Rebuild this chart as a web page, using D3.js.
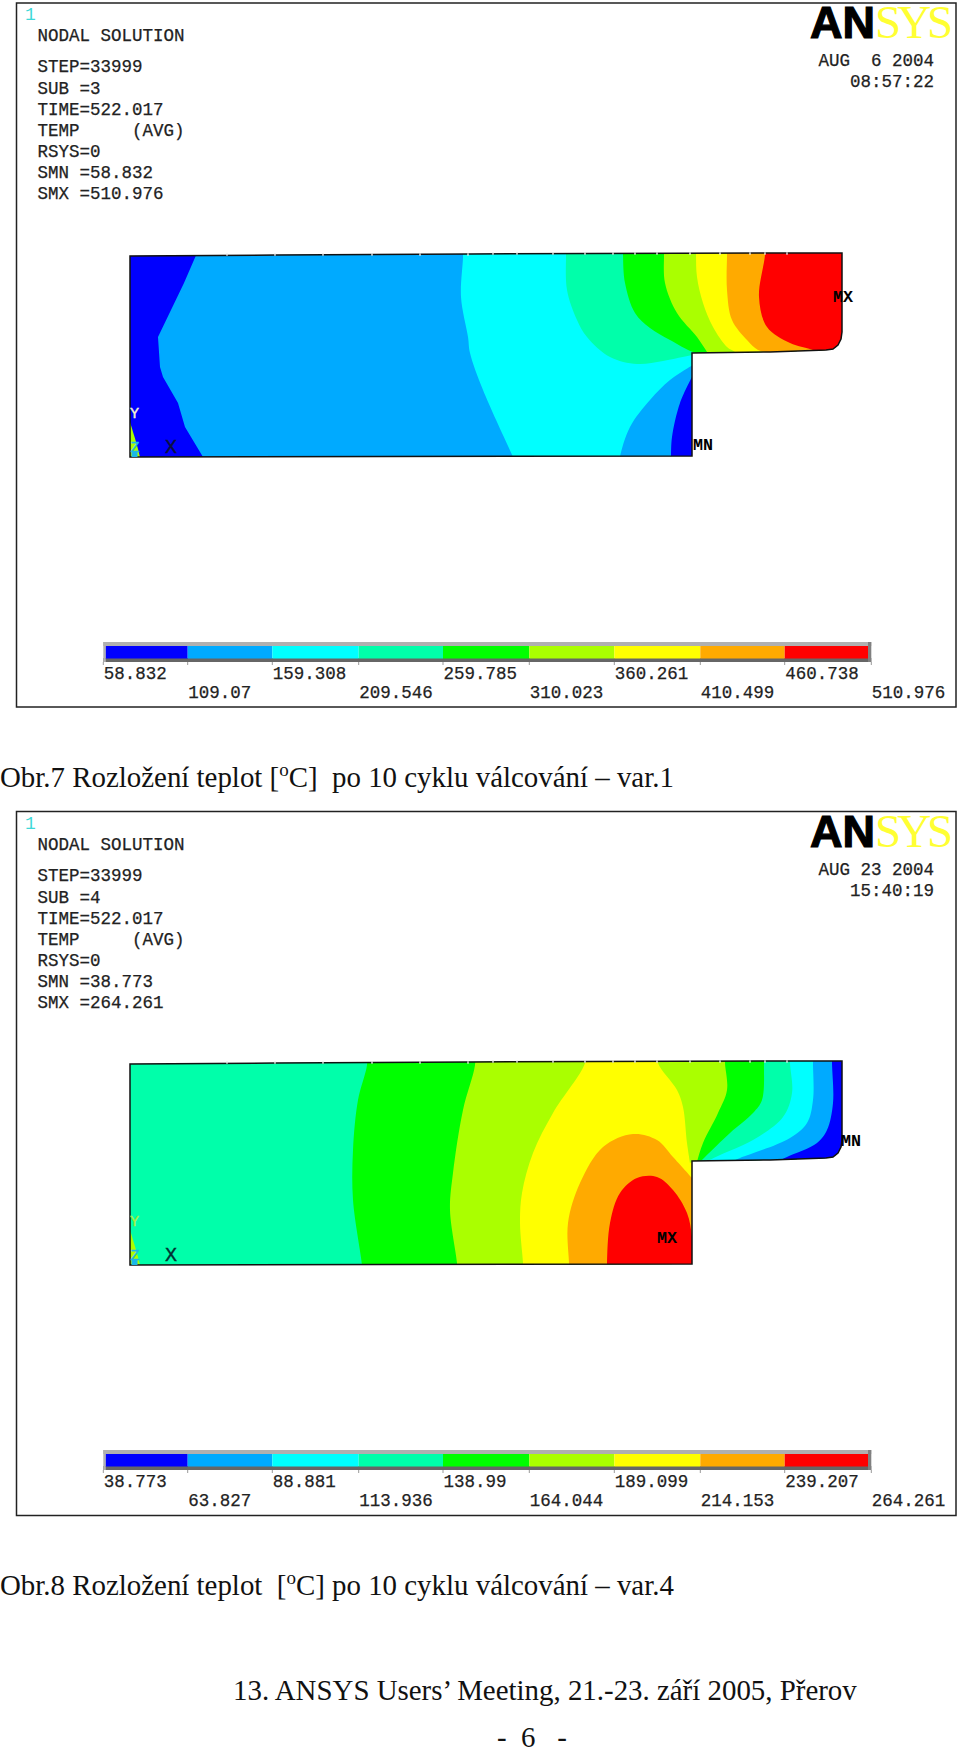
<!DOCTYPE html>
<html><head><meta charset="utf-8">
<script src="https://cdn.jsdelivr.net/npm/d3@7"></script>
<style>
html,body{margin:0;padding:0;background:#fff}
svg{display:block}
text{white-space:pre}
.mono{font-family:"Liberation Mono",monospace;font-size:17.5px;fill:#222;stroke:#222;stroke-width:.25px}
.cap{font-family:"Liberation Serif",serif;font-size:28.9px;fill:#111}
</style></head><body>
<svg id="c" width="960" height="1750"></svg>
<script>
// contour colours, lowest to highest band
const bandColors = ["#0000FF","#00AAFF","#00FFFF","#00FFAA","#00FF00","#AAFF00","#FFFF00","#FFAA00","#FF0000"];
// legend level values
const levels1 = ["58.832","109.07","159.308","209.546","259.785","310.023","360.261","410.499","460.738","510.976"];
const levels2 = ["38.773","63.827","88.881","113.936","138.99","164.044","189.099","214.153","239.207","264.261"];
// header texts
const header1 = ["NODAL SOLUTION","STEP=33999","SUB =3","TIME=522.017","TEMP     (AVG)","RSYS=0","SMN =58.832","SMX =510.976"];
const header2 = ["NODAL SOLUTION","STEP=33999","SUB =4","TIME=522.017","TEMP     (AVG)","RSYS=0","SMN =38.773","SMX =264.261"];
const stamp1 = ["AUG  6 2004","08:57:22"];
const stamp2 = ["AUG 23 2004","15:40:19"];
// model outline of the rolled section (model units)
const outline = [[0,0],[562,1],[562,104],[640,105],[696,107],[703,108],[708,112],[711,118],[712,125],[712,204],[640,204],[340,203],[146,202],[0,201]];
// mesh node marks on the top edge
const topNodes = [97,145,193,242,290,338,363,387,423,455,483,505,527,560,590,620,635,657];

// contour edges. Each band: colour index and edges (curved runs joined by straight lines)
const farX = 730, topY = 215, lowY = -5;
const bands1 = [
 {c:1, edges:[[[-5,lowY],[farX,lowY],[farX,topY],[-5,topY]]], straight:true},
 {c:0, straight:true, edges:[[[72,topY],[67,204],[54,174],[28,120],[30,90],[33,80],[48,54],[55,30],[73,0],[74,lowY]],[[-5,lowY],[-5,topY]]]},
 {c:5, edges:[[[0,35],[10,0],[10,lowY]],[[-5,lowY],[-5,35]]]},
 {c:2, edges:[[[333,topY],[333,200],[331,160],[338,120],[340,104],[353,67],[383,0],[385,lowY]],[[farX,lowY],[farX,topY]]]},
 {c:1, edges:[[[490,lowY],[490,0],[500,30],[520,57],[540,77],[563,92]],[[600,92],[600,lowY]]]},
 {c:0, edges:[[[541,lowY],[541,0],[542,20],[550,54],[563,82]],[[600,82],[600,lowY]]]},
 {c:3, edges:[[[436,topY],[436,202],[437,167],[447,137],[457,120],[480,100],[507,93],[533,96],[563,102],[575,103]],[[farX,103],[farX,topY]]]},
 {c:4, edges:[[[493,topY],[493,202],[495,174],[505,144],[520,129],[540,117],[563,105],[575,103]],[[farX,103],[farX,topY]]]},
 {c:5, edges:[[[534,topY],[534,202],[535,174],[547,144],[567,120],[577,105],[580,100]],[[farX,100],[farX,topY]]]},
 {c:6, edges:[[[566,topY],[566,202],[567,180],[573,154],[583,130],[597,110],[605,105],[610,100]],[[farX,100],[farX,topY]]]},
 {c:7, edges:[[[597,topY],[597,202],[597,167],[602,137],[617,117],[628,107],[640,104],[645,100]],[[farX,100],[farX,topY]]]},
 {c:8, edges:[[[635,topY],[635,202],[629,160],[637,130],[660,114],[683,107],[690,104],[695,100]],[[farX,100],[farX,topY]]]}
];
const bands2 = [
 {c:3, edges:[[[-5,lowY],[farX,lowY],[farX,topY],[-5,topY]]], straight:true},
 {c:5, edges:[[[0,35],[10,0],[10,lowY]],[[-5,lowY],[-5,35]]]},
 {c:4, edges:[[[237,topY],[237,200],[228,165],[223,115],[223,65],[232,0],[232,lowY]],[[farX,lowY],[farX,topY]]]},
 {c:5, edges:[[[345,topY],[345,200],[333,155],[323,92],[320,55],[327,2],[327,lowY]],[[farX,lowY],[farX,topY]]]},
 {c:6, edges:[[[455,topY],[455,202],[423,152],[403,112],[392,72],[390,42],[393,2],[393,lowY]],[[575,lowY],[575,100],[563,104]],[[560,102],[557,122],[553,158],[547,175],[528,202],[528,topY]]]},
 {c:4, edges:[[[595,topY],[595,202],[597,175],[588,152],[573,122],[567,103],[566,98]],[[farX,98],[farX,topY]]]},
 {c:3, edges:[[[634,topY],[634,202],[632,165],[623,152],[600,132],[575,108],[570,103],[565,98]],[[farX,98],[farX,topY]]]},
 {c:2, edges:[[[660,topY],[660,202],[662,172],[653,148],[623,125],[580,105],[572,98]],[[farX,98],[farX,topY]]]},
 {c:1, edges:[[[683,topY],[683,202],[683,165],[677,142],[660,127],[610,107],[600,103],[590,98]],[[farX,98],[farX,topY]]]},
 {c:0, edges:[[[702,topY],[702,202],[703,162],[697,135],[687,122],[657,108],[647,103],[640,98]],[[farX,98],[farX,topY]]]},
 {c:7, edges:[[[439,lowY],[439,2],[438,42],[450,82],[473,118],[503,131],[527,125],[543,108],[562,87]],[[575,87],[575,lowY]]]},
 {c:8, edges:[[[477,lowY],[477,2],[480,42],[490,72],[507,87],[527,88],[543,75],[557,52],[562,28],[563,2],[563,lowY]]]}
];

const svg = d3.select("#c");
const yHeader = [41,72,94,115,136,157,178,199];

function panel(opts){
  const {dy, frameDy, levels, header, stamp, bands, id, labels, triadY, triadZ} = opts;
  const x = d3.scaleLinear().domain([0,712]).range([130,842]);
  const y = d3.scaleLinear().domain([0,204]).range([457+dy,253+dy]);
  const curved = d3.line().x(d=>x(d[0])).y(d=>y(d[1])).curve(d3.curveCatmullRom.alpha(0.5));
  const straight = d3.line().x(d=>x(d[0])).y(d=>y(d[1]));
  const bandPath = b => b.edges.map((e,i)=>{
      const s = (b.straight||e.length<3) ? straight(e) : curved(e);
      return i? "L"+s.slice(1) : s;
    }).join("")+"Z";

  const g = svg.append("g");
  // frame
  g.append("rect").attr("x",16.5).attr("y",3+frameDy).attr("width",939.5).attr("height",704)
    .attr("fill","#fff").attr("stroke","#222").attr("stroke-width",1.5);

  // contours
  g.append("clipPath").attr("id",id).append("path").attr("d",straight(outline)+"Z");
  const body = g.append("g").attr("clip-path",`url(#${id})`);
  body.selectAll("path").data(bands).join("path").attr("d",bandPath).attr("fill",d=>bandColors[d.c]);
  // outline
  g.append("path").attr("d",straight(outline)+"Z").attr("fill","none").attr("stroke","#111").attr("stroke-width",1.5);
  g.selectAll("line.node").data(topNodes).join("line").attr("class","node")
    .attr("x1",d=>x(d)).attr("x2",d=>x(d)).attr("y1",d=>y(d<340?202.5:203.5)-1.2).attr("y2",d=>y(d<340?202.5:203.5)+1.2)
    .attr("stroke","#e8e8e8").attr("stroke-width",1.4);

  // triad and extreme labels
  const tri = (t,px,py,col,fs)=>g.append("text").attr("x",px).attr("y",py+dy).text(t).attr("fill",col).attr("stroke",col).attr("stroke-width",0.4)
     .style("font-family","Liberation Mono").style("font-size",(fs||16)+"px");
  g.append("rect").attr("x",131.5).attr("y",451+dy).attr("width",6).attr("height",6).attr("fill","#19b8e8");
  tri("Y",130,418,triadY,15); tri("Z",130.5,452,triadZ,15); tri("X",165,453,opts.triadX,20);
  labels.forEach(l=>g.append("text").attr("x",l[1]).attr("y",l[2]+dy).text(l[0]).attr("fill","#000")
     .style("font-family","Liberation Mono").style("font-size","17px").style("font-weight","bold").attr("textLength",20).attr("lengthAdjust","spacingAndGlyphs"));

  // header
  g.append("text").attr("x",25).attr("y",20+frameDy).text("1").attr("fill","#3fd8d8")
    .style("font-family","Liberation Mono").style("font-size","18px");
  g.selectAll("text.hd").data(header).join("text").attr("class","hd mono").attr("x",37.5)
    .attr("y",(d,i)=>yHeader[i]+frameDy).text(d=>d);
  g.selectAll("text.st").data(stamp).join("text").attr("class","st mono").attr("x",934).attr("text-anchor","end")
    .attr("y",(d,i)=>[66,87][i]+frameDy).text(d=>d);

  // logo
  const logo = g.append("text").attr("x",810).attr("y",38+frameDy);
  logo.append("tspan").text("AN").attr("fill","#000").attr("stroke","#000").attr("stroke-width",1.2)
    .style("font-family","Liberation Sans").style("font-weight","bold").style("font-size","45px");
  logo.append("tspan").text("SYS").attr("fill","#ffff33").style("font-family","Liberation Serif")
    .style("font-size","47px").style("letter-spacing","-4px");

  // legend
  const lv = d3.range(10);
  const lx = d3.scaleLinear().domain(lv).range([103.3,187.7,272.3,358.7,443,529.3,614.3,700.3,784.7,871.3]);
  const ly = 642+dy;
  g.append("rect").attr("x",lx(0)).attr("y",ly).attr("width",lx(9)-lx(0)).attr("height",4).attr("fill","#b0b0b0");
  g.append("rect").attr("x",lx(0)).attr("y",ly+16).attr("width",lx(9)-lx(0)).attr("height",4).attr("fill","#666");
  g.append("rect").attr("x",lx(0)).attr("y",ly).attr("width",2.5).attr("height",20).attr("fill","#b0b0b0");
  g.append("rect").attr("x",lx(9)-3.3).attr("y",ly).attr("width",3.3).attr("height",20).attr("fill","#808080");
  g.selectAll("rect.sw").data(bandColors).join("rect").attr("class","sw")
    .attr("x",(d,i)=>i?lx(i):lx(0)+2.5).attr("y",ly+4).attr("height",12.5)
    .attr("width",(d,i)=>(i==8?lx(9)-3.3:lx(i+1))-(i?lx(i):lx(0)+2.5)).attr("fill",d=>d);
  g.selectAll("line.tk").data(lv).join("line").attr("class","tk")
    .attr("x1",d=>lx(d)).attr("x2",d=>lx(d)).attr("y1",ly+20).attr("y2",ly+23).attr("stroke","#999");
  g.selectAll("text.lv").data(levels).join("text").attr("class","lv mono")
    .attr("x",(d,i)=>lx(i)+0.5).attr("y",(d,i)=>(i%2?698.3:679.3)+dy).text(d=>d);

  // caption
  const cap = svg.append("text").attr("class","cap").attr("x",0).attr("y",opts.capY);
  cap.append("tspan").text(opts.cap[0]);
  cap.append("tspan").text("o").attr("dy",-11).style("font-size","19px");
  cap.append("tspan").text(opts.cap[1]).attr("dy",11);
}

panel({dy:0,frameDy:0,levels:levels1,header:header1,stamp:stamp1,bands:bands1,id:"b1",
  labels:[["MX",833,302],["MN",693,450]],triadY:"#f4f4d0",triadZ:"#19b8e8",triadX:"#0a1040",
  capY:786.5,cap:["Obr.7 Rozložení teplot [","C]  po 10 cyklu válcování – var.1"]});
panel({dy:808,frameDy:808.5,levels:levels2,header:header2,stamp:stamp2,bands:bands2,id:"b2",
  labels:[["MX",657,435],["MN",841,338]],triadY:"#a8ee40",triadZ:"#19b8e8",triadX:"#033",
  capY:1595,cap:["Obr.8 Rozložení teplot  [","C] po 10 cyklu válcování – var.4"]});

svg.append("text").attr("class","cap").attr("x",233).attr("y",1700).text("13. ANSYS Users’ Meeting, 21.-23. září 2005, Přerov");
svg.append("text").attr("class","cap").attr("x",497).attr("y",1746.5).text("-  6   -");
</script></body></html>
